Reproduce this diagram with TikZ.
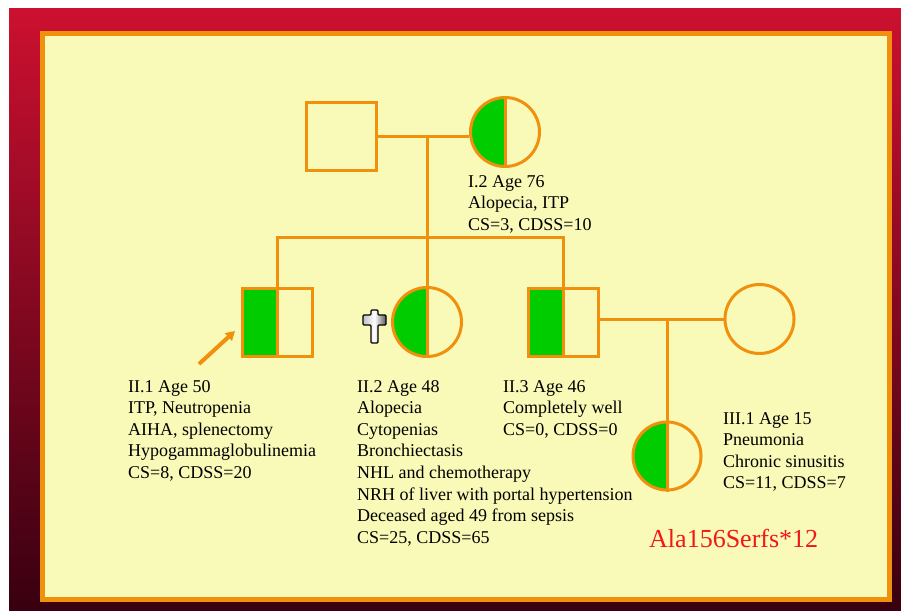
\documentclass[tikz,border=0pt]{standalone}
\usepackage{fontspec}
\setmainfont{Liberation Serif}
\usetikzlibrary{arrows.meta}
\definecolor{bgtop}{HTML}{CC1030}
\definecolor{bgbot}{HTML}{380010}
\definecolor{panel}{HTML}{F9F9B8}
\definecolor{ped}{HTML}{F0900C}
\definecolor{aff}{HTML}{00CC00}
\definecolor{mut}{HTML}{F01818}
\begin{document}
\begin{tikzpicture}[x=1pt,y=-1pt,
 conn/.style={draw=ped,line width=3pt},
 male/.style={rectangle,draw=ped,line width=3pt,minimum width=70pt,minimum height=68pt,inner sep=0pt,fill=panel},
 female/.style={circle,draw=ped,line width=3pt,minimum size=69pt,inner sep=0pt,fill=panel},
 half/.style={path picture={\fill[aff] (path picture bounding box.north west) rectangle (path picture bounding box.south);}},
 info/.style={anchor=base west,inner sep=0pt,font=\fontsize{18}{21.6}\selectfont,text=black},
]
\useasboundingbox (0,0) rectangle (901,610);
\fill[white] (0,0) rectangle (901,610);
\shade[top color=bgtop,bottom color=bgbot] (9,9) rectangle (901,610);
\draw[ped,line width=5pt,fill=panel] (42.5,33.5) rectangle (889.5,599.5);

% generation I
\node[male] (I1) at (341,136) {};
\node[female,half] (I2) at (505,132) {};
\draw[conn] (I2.north) -- (I2.south);
% generation II
\node[male,half] (II1) at (277.5,322.5) {};
\draw[conn] (II1.north) -- (II1.south);
\node[female,half] (II2) at (427,322) {};
\draw[conn] (II2.north) -- (II2.south);
\node[male,half] (II3) at (563,322.5) {};
\draw[conn] (II3.north) -- (II3.south);
\node[female] (S) at (759.5,319) {};
% generation III
\node[female,half,minimum size=68pt] (III1) at (667,456) {};
\draw[conn] (III1.north) -- (III1.south);

% connectors
\coordinate (m1) at (427,136);
\coordinate (sib) at (427,237);
\coordinate (m2) at (667,319);
\draw[conn] (I1.east) -- (I1.east -| I2.west);
\draw[conn] (m1) -- (sib);
\draw[conn] (II1.north) -- (II1.north |- sib) -- (II3.north |- sib) -- (II3.north);
\draw[conn] (sib) -- (II2.north);
\draw[conn] (II3.east |- S.west) -- (S.west);
\draw[conn] (m2) -- (III1.north);

% proband arrow
\coordinate (arrS) at (199,364);
\coordinate (arrE) at (235,331);
\draw[ped,line width=4pt,-{Triangle[length=9pt,width=10pt]}] (arrS) -- (arrE);

% deceased cross
\draw[black,line width=1.2pt,left color=gray!50,right color=gray!70!black,middle color=white,rounded corners=1pt]
 (371,310) -- (378,310) -- (378,315) -- (386,315) -- (386,325) -- (378,325) -- (378,343)
 -- (371,343) -- (371,325) -- (363,325) -- (363,315) -- (371,315) -- cycle;

% texts
\node[info] (tI2) at (468,187) {\begin{tabular}[t]{@{}l@{}}I.2 Age 76\\Alopecia, ITP\\CS=3, CDSS=10\end{tabular}};
\node[info] (tII1) at (128,392) {\begin{tabular}[t]{@{}l@{}}II.1 Age 50\\ITP, Neutropenia\\AIHA, splenectomy\\Hypogammaglobulinemia\\CS=8, CDSS=20\end{tabular}};
\node[info] (tII2) at (357,392) {\begin{tabular}[t]{@{}l@{}}II.2 Age 48\\Alopecia\\Cytopenias\\Bronchiectasis\\NHL and chemotherapy\\NRH of liver with portal hypertension\\Deceased aged 49 from sepsis\\CS=25, CDSS=65\end{tabular}};
\node[info] (tII3) at (503,392) {\begin{tabular}[t]{@{}l@{}}II.3 Age 46\\Completely well\\CS=0, CDSS=0\end{tabular}};
\node[info] (tIII1) at (723,424) {\begin{tabular}[t]{@{}l@{}}III.1 Age 15\\Pneumonia\\Chronic sinusitis\\CS=11, CDSS=7\end{tabular}};
\node[anchor=base west,inner sep=0pt,font=\fontsize{26}{30}\selectfont,text=mut] (mut) at (649,547) {Ala156Serfs*12};
\end{tikzpicture}
\end{document}
